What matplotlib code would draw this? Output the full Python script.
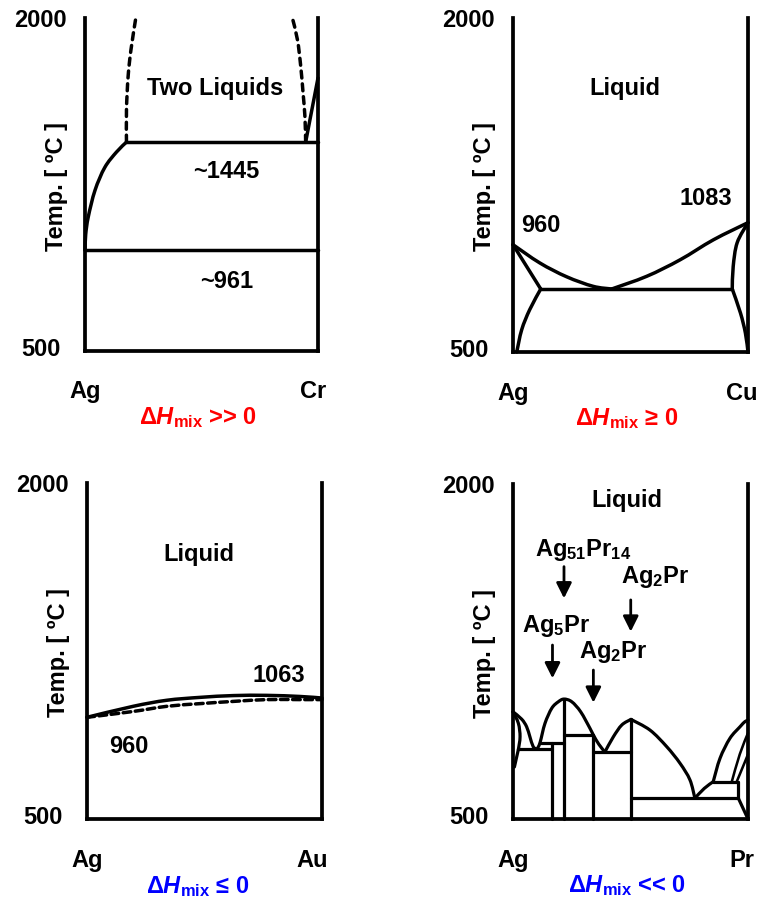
import matplotlib
matplotlib.use('Agg')
import matplotlib.pyplot as plt
from matplotlib.path import Path
from matplotlib.patches import PathPatch

plt.rcParams['font.family'] = ['Liberation Sans', 'DejaVu Sans']
plt.rcParams['font.weight'] = 'bold'
plt.rcParams['font.size'] = 17
plt.rcParams['mathtext.fontset'] = 'custom'
plt.rcParams['mathtext.rm'] = 'Liberation Sans:bold'
plt.rcParams['mathtext.it'] = 'Liberation Sans:bold:italic'
plt.rcParams['mathtext.bf'] = 'Liberation Sans:bold'

# ---- Ag-Cr (miscibility gap) ----
cr_liq_x = [0, 0.3, 1.4, 4.3, 8.5, 13.5, 17.8]
cr_liq_T = [954, 1025, 1104, 1224, 1327, 1396, 1441]
cr_gapL_x = [17.8, 17.8, 18.5, 19.7, 21.8]
cr_gapL_T = [1441, 1586, 1736, 1855, 2000]
cr_gapR_x = [94.7, 94.4, 93.6, 92.6, 91.2, 89.0]
cr_gapR_T = [1441, 1554, 1661, 1781, 1901, 2000]
cr_liqR_x = [94.7, 100]
cr_liqR_T = [1441, 1730]
cr_monotectic = 1441
cr_eutectic = 954

# ---- Ag-Cu (eutectic) ----
cu_liqL_x = [0, 11.4, 22.8, 34.1, 42.0]
cu_liqL_T = [982, 900, 838, 795, 783]
cu_liqR_x = [42.0, 56.9, 71.1, 85.3, 100]
cu_liqR_T = [783, 840, 914, 1004, 1081]
cu_eut_x = [11.8, 93.3]
cu_eut_T = 783
cu_solL_x = [0, 11.8]
cu_solL_T = [982, 783]
cu_solvL_x = [11.8, 7.1, 3.7, 1.6]
cu_solvL_T = [783, 690, 600, 500]
cu_solR_x = [100, 95.4, 93.7, 93.3]
cu_solR_T = [1081, 991, 884, 783]
cu_solvR_x = [93.3, 96.8, 98.9, 100]
cu_solvR_T = [783, 675, 585, 500]

# ---- Ag-Au (isomorphous) ----
au_x = [0, 19.6, 33.9, 48.1, 62.3, 76.5, 90.7, 100]
au_liq_T = [954, 1003, 1030, 1043, 1051, 1052, 1047, 1040]
au_sol_T = [954, 980, 1003, 1015, 1025, 1033, 1033, 1033]

# ---- Ag-Pr (intermetallics) ----
pr_liqAg_x = [0, 3.7, 5.8, 7.2, 8.6, 10.2]
pr_liqAg_T = [980, 947, 913, 868, 824, 812]
pr_solAg_x = [0, 2.3, 3.0, 2.3]
pr_solAg_T = [980, 928, 868, 812]
pr_solvAg_x = [2.3, 0.6]
pr_solvAg_T = [812, 733]
pr_eut1_x = [2.3, 16.6]
pr_eut1_T = 812
pr_dome_x = [10.2, 11.5, 13.6, 16.5, 19.3, 21.7, 25.0, 28.8, 32.8, 34.2, 36.5, 39.1]
pr_dome_T = [812, 842, 928, 996, 1025, 1037, 1025, 980, 905, 876, 835, 800]
pr_peri1_x = [11.5, 21.7]
pr_peri1_T = 842
pr_peri2_x = [21.7, 34.2]
pr_peri2_T = 876
pr_eut2_x = [34.2, 50.2]
pr_eut2_T = 800
pr_dome2_x = [39.1, 42.7, 46.3, 50.2]
pr_dome2_T = [800, 868, 921, 946]
pr_big_x = [50.2, 58.3, 65.4, 71.1, 75.3, 77.4]
pr_big_T = [946, 898, 824, 749, 675, 593]
pr_eut3_x = [50.2, 95.9]
pr_eut3_T = 593
pr_diag_x = [95.9, 100]
pr_diag_T = [593, 500]
pr_riseR_x = [77.4, 81.4, 85.2]
pr_riseR_T = [593, 637, 667]
pr_peri3_x = [85.2, 95.9]
pr_peri3_T = 667
pr_liqPr_x = [85.2, 88.1, 92.3, 96.6, 98.7, 100]
pr_liqPr_T = [667, 772, 861, 913, 936, 942]
pr_inA_x = [93.1, 96.5, 100]
pr_inA_T = [667, 790, 885]
pr_inB_x = [95.2, 98.7, 100]
pr_inB_T = [667, 756, 790]
pr_link_x = [95.9, 95.9]
pr_link_T = [667, 593]
pr_compounds_x = [16.6, 21.7, 34.2, 50.2]
pr_compounds_top = [842, 1037, 876, 946]

pr_labels = [r'Ag$_{51}$Pr$_{14}$', r'Ag$_2$Pr', r'Ag$_5$Pr', r'Ag$_2$Pr']
pr_label_x = [29.9, 60.4, 18.2, 42.7]
pr_label_T = [1704, 1585, 1365, 1249]
pr_arrow_x = [21.7, 50.1, 16.8, 34.2]
pr_arrow_from = [1630, 1481, 1279, 1167]
pr_arrow_to = [1488, 1339, 1130, 1021]

W, H = 758, 898
LW = 2.5
fig = plt.figure(figsize=(W / 100, H / 100), dpi=100)


def make_ax(x0, y0, w, h, right_el, right_pos, hmix, hcol, hpos):
    ax = fig.add_axes([x0 / W, 1 - (y0 + h) / H, w / W, h / H])
    ax.set_xlim(0, 100)
    ax.set_ylim(500, 2000)
    ax.set_xticks([])
    ax.set_yticks([])
    ax.spines['top'].set_visible(False)
    for s in ['left', 'right', 'bottom']:
        ax.spines[s].set_linewidth(2.7)
        ax.spines[s].set_capstyle('projecting')
    ax.patch.set_alpha(0)
    t = ax.transAxes
    ax.text(-0.078, 0.993, '2000', transform=t, ha='right', va='center')
    ax.text(-0.105, 0.005, '500', transform=t, ha='right', va='center')
    ax.text(-0.122, 0.495, 'Temp. [ ºC ]', transform=t, rotation=90,
            ha='center', va='center')
    ax.text(0.0, -0.123, 'Ag', transform=t, ha='center', va='center')
    ax.text(right_pos, -0.123, right_el, transform=t, ha='center', va='center')
    ax.text(hpos, -0.2, 'Δ$\\mathit{H}_{\\mathrm{mix}}$ ' + hmix, transform=t,
            ha='center', va='center', color=hcol)
    return ax


def line(ax, x, y, lw=LW, ls='-'):
    # smooth curve through the read points (Catmull-Rom as cubic Bezier)
    pts = list(zip(x, y))
    if len(pts) < 3:
        ax.plot(x, y, color='k', lw=lw, ls=ls, clip_on=False,
                solid_capstyle='round', dash_capstyle='round')
        return
    verts = [pts[0]]
    codes = [Path.MOVETO]
    n = len(pts)
    for i in range(n - 1):
        p0 = pts[max(i - 1, 0)]
        p1 = pts[i]
        p2 = pts[i + 1]
        p3 = pts[min(i + 2, n - 1)]
        c1 = (p1[0] + (p2[0] - p0[0]) / 6, p1[1] + (p2[1] - p0[1]) / 6)
        c2 = (p2[0] - (p3[0] - p1[0]) / 6, p2[1] - (p3[1] - p1[1]) / 6)
        verts += [c1, c2, p2]
        codes += [Path.CURVE4] * 3
    patch = PathPatch(Path(verts, codes), fill=False, edgecolor='k', lw=lw,
                      ls=ls, capstyle='round', joinstyle='round',
                      clip_on=False)
    ax.add_patch(patch)


# panel 1: Ag-Cr
ax1 = make_ax(85, 18, 233, 333, 'Cr', 0.98, '>> 0', '#ff0000', 0.485)
line(ax1, cr_liq_x, cr_liq_T)
line(ax1, [cr_liq_x[-1], 100], [cr_monotectic, cr_monotectic])
line(ax1, [0, 100], [cr_eutectic, cr_eutectic])
line(ax1, cr_liqR_x, cr_liqR_T)
line(ax1, cr_gapL_x, cr_gapL_T, ls=(0, (2.0, 1.7)))
line(ax1, cr_gapR_x, cr_gapR_T, ls=(0, (2.0, 1.7)))
ax1.text(56, 1681, 'Two Liquids', ha='center', va='center')
ax1.text(60.7, 1308, '~1445', ha='center', va='center')
ax1.text(60.7, 814, '~961', ha='center', va='center')

# panel 2: Ag-Cu
ax2 = make_ax(513, 18, 235, 334, 'Cu', 0.975, '≥ 0', '#ff0000', 0.485)
line(ax2, cu_liqL_x, cu_liqL_T)
line(ax2, cu_liqR_x, cu_liqR_T)
line(ax2, cu_eut_x, [cu_eut_T, cu_eut_T])
line(ax2, cu_solL_x, cu_solL_T)
line(ax2, cu_solvL_x, cu_solvL_T)
line(ax2, cu_solR_x, cu_solR_T)
line(ax2, cu_solvR_x, cu_solvR_T)
ax2.text(47.4, 1682, 'Liquid', ha='center', va='center')
ax2.text(11.8, 1067, '960', ha='center', va='center')
ax2.text(82.2, 1188, '1083', ha='center', va='center')

# panel 3: Ag-Au
ax3 = make_ax(87, 483, 235, 336, 'Au', 0.957, '≤ 0', '#0000ff', 0.472)
line(ax3, au_x, au_liq_T)
line(ax3, au_x, au_sol_T, ls=(0, (2.2, 1.3)))
ax3.text(47.4, 1680, 'Liquid', ha='center', va='center')
ax3.text(81.5, 1140, '1063', ha='center', va='center')
ax3.text(17.9, 824, '960', ha='center', va='center')

# panel 4: Ag-Pr
ax4 = make_ax(513, 484, 235, 335, 'Pr', 0.974, '<< 0', '#0000ff', 0.485)
LW4 = 2.3
line(ax4, pr_liqAg_x, pr_liqAg_T, lw=LW4)
line(ax4, pr_solAg_x, pr_solAg_T, lw=LW4)
line(ax4, pr_solvAg_x, pr_solvAg_T, lw=LW4)
line(ax4, pr_eut1_x, [pr_eut1_T] * 2, lw=LW4)
line(ax4, pr_dome_x, pr_dome_T, lw=LW4)
line(ax4, pr_peri1_x, [pr_peri1_T] * 2, lw=LW4)
line(ax4, pr_peri2_x, [pr_peri2_T] * 2, lw=LW4)
line(ax4, pr_eut2_x, [pr_eut2_T] * 2, lw=LW4)
line(ax4, pr_dome2_x, pr_dome2_T, lw=LW4)
line(ax4, pr_big_x, pr_big_T, lw=LW4)
line(ax4, pr_eut3_x, [pr_eut3_T] * 2, lw=LW4)
line(ax4, pr_diag_x, pr_diag_T, lw=LW4)
line(ax4, pr_riseR_x, pr_riseR_T, lw=LW4)
line(ax4, pr_peri3_x, [pr_peri3_T] * 2, lw=LW4)
line(ax4, pr_liqPr_x, pr_liqPr_T, lw=LW4)
line(ax4, pr_inA_x, pr_inA_T, lw=LW4 * 0.8)
line(ax4, pr_inB_x, pr_inB_T, lw=LW4 * 0.8)
line(ax4, pr_link_x, pr_link_T, lw=LW4)
for cx, ct in zip(pr_compounds_x, pr_compounds_top):
    line(ax4, [cx, cx], [500, ct], lw=LW4)
ax4.text(48.4, 1924, 'Liquid', ha='center', va='center')
for lab, lx, lt in zip(pr_labels, pr_label_x, pr_label_T):
    ax4.text(lx, lt, lab, ha='center', va='center')
for ax_, a0, a1 in zip(pr_arrow_x, pr_arrow_from, pr_arrow_to):
    ax4.annotate('', xy=(ax_, a1), xytext=(ax_, a0),
                 arrowprops=dict(arrowstyle='-|>', color='k', lw=2,
                                 mutation_scale=23, shrinkA=0, shrinkB=0))

fig.savefig('out.png', dpi=100)
